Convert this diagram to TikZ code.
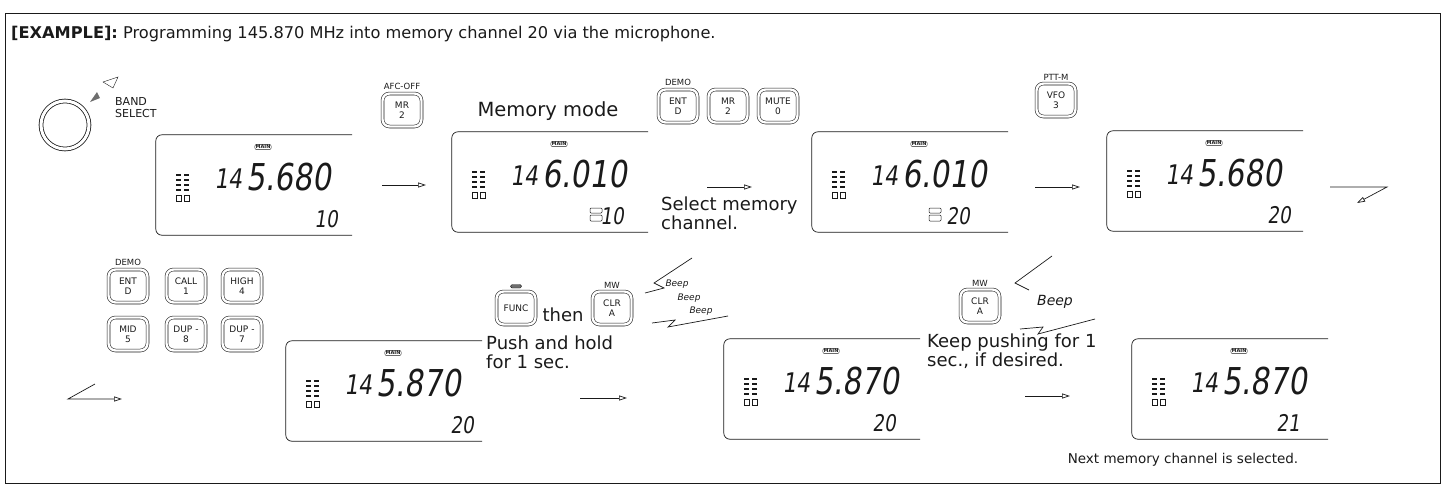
\documentclass[tikz,border=0pt]{standalone}
\usepackage{fontspec}
\setmainfont{DejaVu Sans}
\newfontfamily\lcdfont[FakeStretch=0.8,FakeSlant=0.15]{DejaVu Sans}
\usetikzlibrary{arrows.meta,positioning}
\definecolor{inkmain}{HTML}{1A1A1A}
\definecolor{inkgray}{HTML}{6E6E6E}
\tikzset{
  key/.style={draw=inkmain,double,double distance=2.4pt,line width=0.55pt,rounded corners=7pt,
    minimum width=39pt,minimum height=33pt,align=center,inner sep=1pt,
    font=\fontsize{9}{10}\selectfont},
  keytag/.style={font=\fontsize{8.5}{9}\selectfont,inner sep=0pt},
  lcd/.style={minimum width=196pt,minimum height=100pt,inner sep=0pt},
  lcdline/.style={draw=inkmain,line width=0.7pt,rounded corners=6pt},
  badge/.style={draw=inkmain,rounded corners=2pt,inner sep=0.8pt,
    font=\fontsize{5}{5}\selectfont\bfseries},
  note/.style={font=\fontsize{18}{18.5}\selectfont,align=left,inner sep=0pt},
  flow/.style={-{Triangle[open,length=8pt,width=5pt]},inkmain,line width=0.7pt},
  bolt/.style={inkmain,line width=0.7pt},
  beeptxt/.style={font=\fontsize{9}{9}\selectfont\itshape,inner sep=0pt}
}

\begin{document}
\begin{tikzpicture}[x=1pt,y=-1pt,inkmain]
  \useasboundingbox (0,0) rectangle (1447,493);
  \draw[line width=0.8pt] (5,13) rectangle (1440,483);
  \node[anchor=base west,inner sep=0pt,font=\fontsize{16.2}{18}\selectfont] (title) at (11,38)
    {\textbf{[EXAMPLE]:} Programming 145.870 MHz into memory channel 20 via the microphone.};

  % band select knob
  \node[circle,draw,double,double distance=3pt,line width=0.8pt,minimum size=48pt] (knob) at (65,125) {};
  \fill[inkgray] (90,102) -- (97,92) -- (100,98) -- cycle;
  \draw (103,82) -- (118,77) -- (113,88) -- cycle;
  \node[anchor=north west,align=left,inner sep=0pt,font=\fontsize{11}{12}\selectfont] (bandsel) at (115,97) {BAND\\SELECT};

  % lcd panels: name/x/y/frequency/channel/channel right edge
  \foreach \nm/\cx/\cy/\fq/\ch/\chx in {d1/254/185/5.680/10/182, d2/550/182/6.010/10/172,
      d3/910/182/6.010/20/158, d4/1205/181/5.680/20/184, d5/384/391/5.870/20/188,
      d6/822/389/5.870/20/172, d7/1230/389/5.870/21/168}{
    \node[lcd] (\nm) at (\cx,\cy) {};
    \draw[lcdline] (\nm.north east) -- (\nm.north west) -- (\nm.south west) -- (\nm.south east);
    \node[badge] (\nm-main) at (\cx+9,\cy-38) {MAIN};
    \node[anchor=base east,inner sep=0pt,font=\lcdfont\fontsize{27}{27}\selectfont] (\nm-mhz) at (\cx-12,\cy+3) {14};
    \node[anchor=base west,inner sep=0pt,font=\lcdfont\fontsize{37}{37}\selectfont] (\nm-freq) at (\cx-8,\cy+5) {\fq};
    \node[anchor=base east,inner sep=0pt,font=\lcdfont\fontsize{23}{23}\selectfont] (\nm-ch) at (\cx-98+\chx,\cy+42) {\ch};
    \foreach \r in {0,...,3}{
      \draw[line width=2pt] (\cx-78,\cy-10+5*\r) -- (\cx-73,\cy-10+5*\r);
      \draw[line width=2pt] (\cx-70,\cy-10+5*\r) -- (\cx-65,\cy-10+5*\r);
    }
    \draw[line width=0.5pt] (\cx-78,\cy+10) rectangle (\cx-73,\cy+16);
    \draw[line width=0.5pt] (\cx-70,\cy+10) rectangle (\cx-65,\cy+16);
  }
  % memory/skip marks
  \draw[rounded corners=1pt,line width=0.5pt] (590,208) rectangle (602,213) (590,215) rectangle (602,221);
  \draw[rounded corners=1pt,line width=0.5pt] (929,208) rectangle (941,213) (929,215) rectangle (941,221);

  % first row keys
  \node[key] (kmr1) at (402,110) {MR\\2};
  \node[keytag,above=3pt of kmr1] (tafc) {AFC-OFF};
  \node[font=\fontsize{19.5}{22}\selectfont,inner sep=0pt] (memmode) at (548,111) {Memory mode};
  \node[key] (kent1) at (678,106) {ENT\\D};
  \node[key] (kmr2) at (728,106) {MR\\2};
  \node[key] (kmute) at (778,106) {MUTE\\0};
  \node[keytag,above=3pt of kent1] (tdemo1) {DEMO};
  \node[note,anchor=north west] (selmem) at (661,197) {Select memory\\channel.};
  \node[key] (kvfo) at (1056,100) {VFO\\3};
  \node[keytag,above=3pt of kvfo] (tptt) {PTT-M};

  % second row keys
  \node[key] (kent2) at (128,286) {ENT\\D};
  \node[key] (kcall) at (186,286) {CALL\\1};
  \node[key] (khigh) at (242,286) {HIGH\\4};
  \node[key] (kmid) at (128,334) {MID\\5};
  \node[key] (kdup8) at (186,334) {DUP -\\8};
  \node[key] (kdup7) at (242,334) {DUP -\\7};
  \node[keytag,above=3pt of kent2] (tdemo2) {DEMO};
  \node[key] (kfunc) at (516,308) {FUNC};
  \node[draw,fill=inkgray,rounded corners=1.5pt,minimum width=11pt,minimum height=3.5pt,inner sep=0pt,
    above=3pt of kfunc] (fbar) {};
  \node[note,anchor=base] (then) at (563,321) {then};
  \node[key] (kclr1) at (612,308) {CLR\\A};
  \node[keytag,above=3pt of kclr1] (tmw1) {MW};
  \node[note,anchor=north west] (pushhold) at (486,336) {Push and hold\\for 1 sec.};
  \node[key] (kclr2) at (980,306) {CLR\\A};
  \node[keytag,above=3pt of kclr2] (tmw2) {MW};
  \node[note,anchor=north west] (keeppush) at (927,334) {Keep pushing for 1\\sec., if desired.};
  \node[font=\fontsize{13.5}{16}\selectfont,inner sep=0pt] (nextch) at (1183,460) {Next memory channel is selected.};

  % beeps
  \draw[bolt] (692,258) -- (654,283) -- (664,288) -- (645,293);
  \draw[bolt] (652,323) -- (675,320) -- (668,327) -- (728,316);
  \node[beeptxt] (beep1) at (677,284) {Beep};
  \node[beeptxt] (beep2) at (689,298) {Beep};
  \node[beeptxt] (beep3) at (701,311) {Beep};
  \draw[bolt] (1052,256) -- (1015,283) -- (1029,290);
  \draw[bolt] (1020,329) -- (1043,327) -- (1038,334) -- (1095,319);
  \node[beeptxt,font=\fontsize{14}{14}\selectfont\itshape] (beep4) at (1055,302) {Beep};

  % arrows
  \coordinate (a1s) at (382,185); \coordinate (a1e) at (426,185);
  \coordinate (a2s) at (707,187); \coordinate (a2e) at (752,187);
  \coordinate (a3s) at (1035,187); \coordinate (a3e) at (1080,187);
  \coordinate (a4s) at (580,398); \coordinate (a4e) at (627,398);
  \coordinate (a5s) at (1025,396); \coordinate (a5e) at (1070,396);
  \draw[flow] (a1s) -- (a1e);
  \draw[flow] (a2s) -- (a2e);
  \draw[flow] (a3s) -- (a3e);
  \draw[flow] (a4s) -- (a4e);
  \draw[flow] (a5s) -- (a5e);
  \coordinate (z1a) at (1330,187); \coordinate (z1b) at (1387,187); \coordinate (z1c) at (1357,203);
  \draw[flow] (z1a) -- (z1b) -- (z1c);
  \coordinate (z2a) at (95,384); \coordinate (z2b) at (68,399); \coordinate (z2c) at (122,399);
  \draw[flow] (z2a) -- (z2b) -- (z2c);
\end{tikzpicture}
\end{document}
